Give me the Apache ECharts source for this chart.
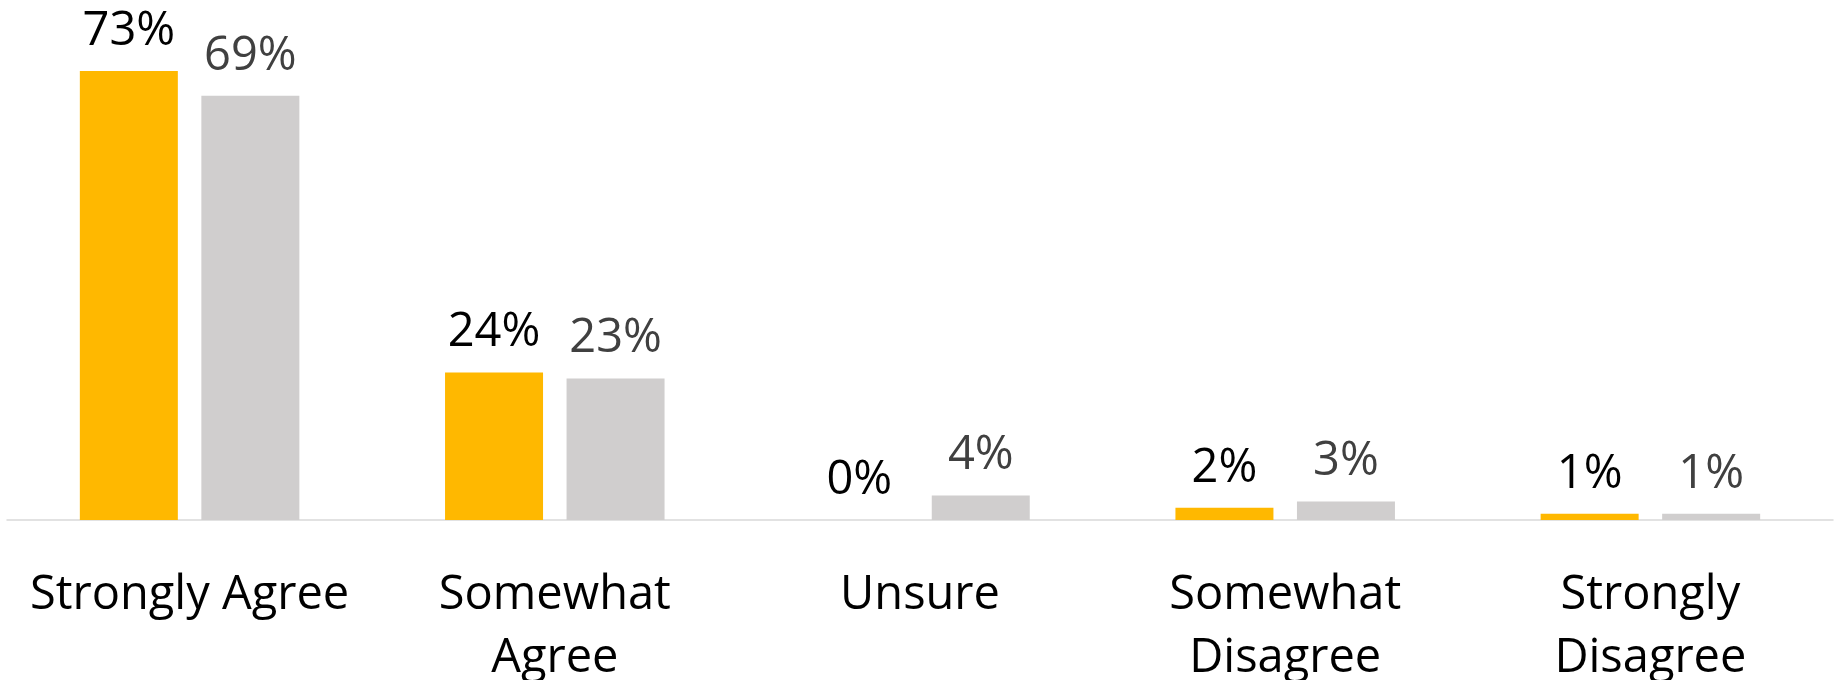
<!DOCTYPE html>
<html>
<head>
<meta charset="utf-8">
<script src="https://cdn.jsdelivr.net/npm/echarts@6/dist/echarts.min.js"></script>
<style>
html,body{margin:0;padding:0;background:#fff;}
#chart{width:1839px;height:680px;}
</style>
</head>
<body>
<div id="chart"></div>
<script>
const categories = ["Strongly Agree", "Somewhat\nAgree", "Unsure", "Somewhat\nDisagree", "Strongly\nDisagree"];
const seriesA = [73, 24, 0, 2, 1];
const seriesB = [69, 23, 4, 3, 1];

const FONT = "Open Sans";
const chart = echarts.init(document.getElementById('chart'), null, {renderer: 'canvas'});
chart.setOption({
  animation: false,
  grid: {left: 7, right: 6, top: 28, bottom: 160, containLabel: false, outerBoundsMode: 'none'},
  xAxis: {
    type: 'category',
    data: categories,
    axisLine: {lineStyle: {color: '#D9D9D9', width: 1.5}},
    axisTick: {show: false},
    axisLabel: {
      color: '#000', fontFamily: FONT, fontSize: 47, lineHeight: 63,
      margin: 44, interval: 0
    }
  },
  yAxis: {
    type: 'value', min: 0, max: 80, show: false,
    splitLine: {show: false}
  },
  series: [
    {
      type: 'bar', data: seriesA, barWidth: 98, barGap: '24%',
      itemStyle: {color: '#FFB800'},
      label: {show: true, position: 'top', distance: 16, formatter: '{c}%',
        color: '#000', fontFamily: FONT, fontSize: 47}
    },
    {
      type: 'bar', data: seriesB, barWidth: 98, barGap: '24%',
      itemStyle: {color: '#D0CECE'},
      label: {show: true, position: 'top', distance: 16, formatter: '{c}%',
        color: '#404040', fontFamily: FONT, fontSize: 47}
    }
  ]
});
</script>
</body>
</html>
